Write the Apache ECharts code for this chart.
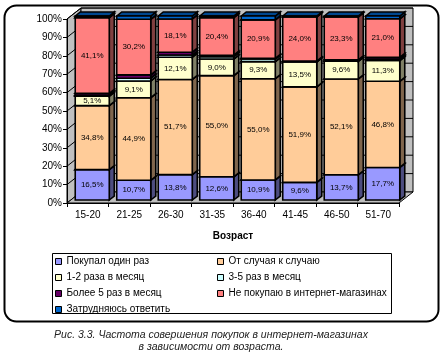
<!DOCTYPE html>
<html>
<head>
<meta charset="utf-8">
<script src="https://cdn.jsdelivr.net/npm/echarts@6/dist/echarts.min.js"></script>
<style>
  html, body { margin: 0; padding: 0; background: #fff; }
  #chart { width: 440px; height: 354px; }
</style>
</head>
<body>
<div id="chart"></div>
<script>
// age groups and shares (%)
const categories = ["15-20", "21-25", "26-30", "31-35", "36-40", "41-45", "46-50", "51-70"];
const onceValues = [16.5, 10.7, 13.8, 12.6, 10.9, 9.6, 13.7, 17.7];
const occasionalValues = [34.8, 44.9, 51.7, 55.0, 55.0, 51.9, 52.1, 46.8];
const monthly12Values = [5.1, 9.1, 12.1, 9.0, 9.3, 13.5, 9.6, 11.3];
const monthly35Values = [0.6, 1.5, 1.2, 1.3, 1.4, 0.5, 0.8, 0.7];
const over5Values = [1.0, 1.8, 1.5, 0.8, 0.4, 0.0, 0.0, 1.0];
const neverValues = [41.1, 30.2, 18.1, 20.4, 20.9, 24.0, 23.3, 21.0];
const unsureValues = [0.9, 1.8, 1.6, 0.9, 2.1, 0.5, 0.5, 1.5];
const yTicks = [0, 10, 20, 30, 40, 50, 60, 70, 80, 90, 100];

const seriesNames = [
  "Покупал один раз",
  "От случая к случаю",
  "1-2 раза в месяц",
  "3-5 раз в месяц",
  "Более 5 раз в месяц",
  "Не покупаю в интернет-магазинах",
  "Затрудняюсь ответить",
];
const seriesValues = [onceValues, occasionalValues, monthly12Values, monthly35Values, over5Values, neverValues, unsureValues];
const seriesColors = ["#9999FF", "#FFCC99", "#FFFFCC", "#CCFFFF", "#660066", "#FF8080", "#0066CC"];
const labelled = [true, true, true, false, false, true, false];

const FONT = '"Liberation Sans", Arial, sans-serif';
// 3d look: wall depth, bar depth, front offset of the bars
const WALL_DX = 14, WALL_DY = -11;
const BAR_DX = 5, BAR_DY = -4;
const FRONT_DX = 4.5, FRONT_DY = -3;

function shade(hex, k) {
  const n = parseInt(hex.slice(1), 16);
  const r = Math.round(((n >> 16) & 255) * k);
  const g = Math.round(((n >> 8) & 255) * k);
  const b = Math.round((n & 255) * k);
  return "rgb(" + r + "," + g + "," + b + ")";
}

function fmt(v) {
  return v.toFixed(1).replace(".", ",") + "%";
}

const chart = echarts.init(document.getElementById("chart"), null, { renderer: "canvas" });

function renderWalls(params, api) {
  const cs = params.coordSys;
  const L = cs.x, R = cs.x + cs.width, T = cs.y, B = cs.y + cs.height;
  const wallStyle = { fill: "#C0C0C0", stroke: "#000", lineWidth: 1 };
  const children = [
    { type: "polygon", shape: { points: [[L, B], [L, T], [L + WALL_DX, T + WALL_DY], [L + WALL_DX, B + WALL_DY]] }, style: wallStyle },
    { type: "rect", shape: { x: L + WALL_DX, y: T + WALL_DY, width: R - L, height: B - T }, style: wallStyle },
    { type: "polygon", shape: { points: [[L, B], [R, B], [R + WALL_DX, B + WALL_DY], [L + WALL_DX, B + WALL_DY]] }, style: wallStyle },
  ];
  yTicks.forEach((v) => {
    if (v === 0) return;
    const y = api.coord([0, v])[1];
    children.push({ type: "line", shape: { x1: L, y1: y, x2: L + WALL_DX, y2: y + WALL_DY }, style: { stroke: "#000", lineWidth: 1 } });
    children.push({ type: "line", shape: { x1: L + WALL_DX, y1: y + WALL_DY, x2: R + WALL_DX, y2: y + WALL_DY }, style: { stroke: "#000", lineWidth: 1 } });
  });
  return { type: "group", children: children };
}

function makeBarRenderer(si) {
  const color = seriesColors[si];
  return function (params, api) {
    const cat = api.value(0), base = api.value(1), val = api.value(2);
    if (!(val > 0)) return null;
    const b = api.coord([cat, base]);
    const t = api.coord([cat, base + val]);
    const w = api.size([1, 0])[0] * 0.82;
    const x = b[0] - w / 2 + FRONT_DX;
    const y0 = b[1] + FRONT_DY, y1 = t[1] + FRONT_DY;
    const edge = { stroke: "#000", lineWidth: 1.6, lineJoin: "miter" };
    const children = [
      { type: "polygon", shape: { points: [[x + w, y0], [x + w + BAR_DX, y0 + BAR_DY], [x + w + BAR_DX, y1 + BAR_DY], [x + w, y1]] },
        style: Object.assign({ fill: shade(color, 0.5) }, edge) },
      { type: "polygon", shape: { points: [[x, y1], [x + BAR_DX, y1 + BAR_DY], [x + w + BAR_DX, y1 + BAR_DY], [x + w, y1]] },
        style: Object.assign({ fill: shade(color, 0.7) }, edge) },
      { type: "rect", shape: { x: x, y: y1, width: w, height: y0 - y1 },
        style: Object.assign({ fill: color }, edge) },
    ];
    if (labelled[si]) {
      children.push({ type: "text", style: { text: fmt(val), x: x + w / 2, y: (y0 + y1) / 2, align: "center", verticalAlign: "middle", font: "8px " + FONT, fill: "#000" } });
    }
    return { type: "group", children: children };
  };
}

const bases = categories.map(() => 0);
const barSeries = seriesNames.map((name, si) => {
  const data = categories.map((c, ci) => {
    const item = [ci, bases[ci], seriesValues[si][ci]];
    bases[ci] += seriesValues[si][ci];
    return item;
  });
  return {
    name: name,
    type: "custom",
    coordinateSystem: "cartesian2d",
    renderItem: makeBarRenderer(si),
    encode: { x: 0, y: 1 },
    itemStyle: { color: seriesColors[si] },
    data: data,
    z: 3,
    silent: true,
  };
});

function legendItems(idx) {
  return idx.map((i) => ({ name: seriesNames[i], itemStyle: { color: seriesColors[i], borderColor: "#000", borderWidth: 1 } }));
}

const legendCommon = {
  orient: "vertical",
  top: 256,
  icon: "rect",
  itemWidth: 6,
  itemHeight: 6,
  itemGap: 5,
  padding: 0,
  textStyle: { fontFamily: FONT, fontSize: 10, color: "#000", lineHeight: 11 },
  selectedMode: false,
};

const option = {
  animation: false,
  textStyle: { fontFamily: FONT },
  title: {
    text: "Рис. 3.3. Частота совершения покупок в интернет-магазинах\nв зависимости от возраста.",
    left: 211,
    top: 329,
    padding: 0,
    textAlign: "center",
    textStyle: { fontFamily: FONT, fontSize: 10.5, fontStyle: "italic", fontWeight: "normal", color: "#222", lineHeight: 12 },
  },
  graphic: [
    { type: "rect", left: 2, top: 3, shape: { width: 434, height: 316, r: 12 }, style: { fill: "none", stroke: "#000", lineWidth: 2 }, z: 0 },
    { type: "rect", left: 52, top: 253, shape: { width: 339, height: 60 }, style: { fill: "#fff", stroke: "#000", lineWidth: 1 }, z: 0 },
  ],
  legend: [
    Object.assign({ left: 55, data: legendItems([0, 2, 4, 6]) }, legendCommon),
    Object.assign({ left: 217, data: legendItems([1, 3, 5]) }, legendCommon),
  ],
  grid: { left: 67, right: 41, top: 19, bottom: 151, containLabel: false },
  xAxis: {
    type: "category",
    data: categories,
    boundaryGap: true,
    name: "Возраст",
    nameLocation: "middle",
    nameGap: 28,
    nameTextStyle: { fontFamily: FONT, fontSize: 10, fontWeight: "bold", color: "#000" },
    axisLine: { lineStyle: { color: "#000", width: 1 } },
    axisTick: { show: true, length: 4, lineStyle: { color: "#000" } },
    axisLabel: { color: "#000", fontSize: 10, fontFamily: FONT, margin: 7 },
    splitLine: { show: false },
    z: 5,
  },
  yAxis: {
    type: "value",
    min: 0,
    max: 100,
    interval: 10,
    axisLine: { show: true, lineStyle: { color: "#000", width: 1 } },
    axisTick: { show: true, length: 4, lineStyle: { color: "#000" } },
    axisLabel: { color: "#000", fontSize: 10, fontFamily: FONT, margin: 5, formatter: "{value}%" },
    splitLine: { show: false },
    z: 5,
  },
  series: [
    {
      name: "walls",
      type: "custom",
      coordinateSystem: "cartesian2d",
      renderItem: renderWalls,
      encode: { x: 0, y: 1 },
      data: [[0, 0]],
      z: 1,
      silent: true,
    },
  ].concat(barSeries),
};

chart.setOption(option);
window.addEventListener("resize", function () {
  chart.resize();
});
</script>
</body>
</html>
